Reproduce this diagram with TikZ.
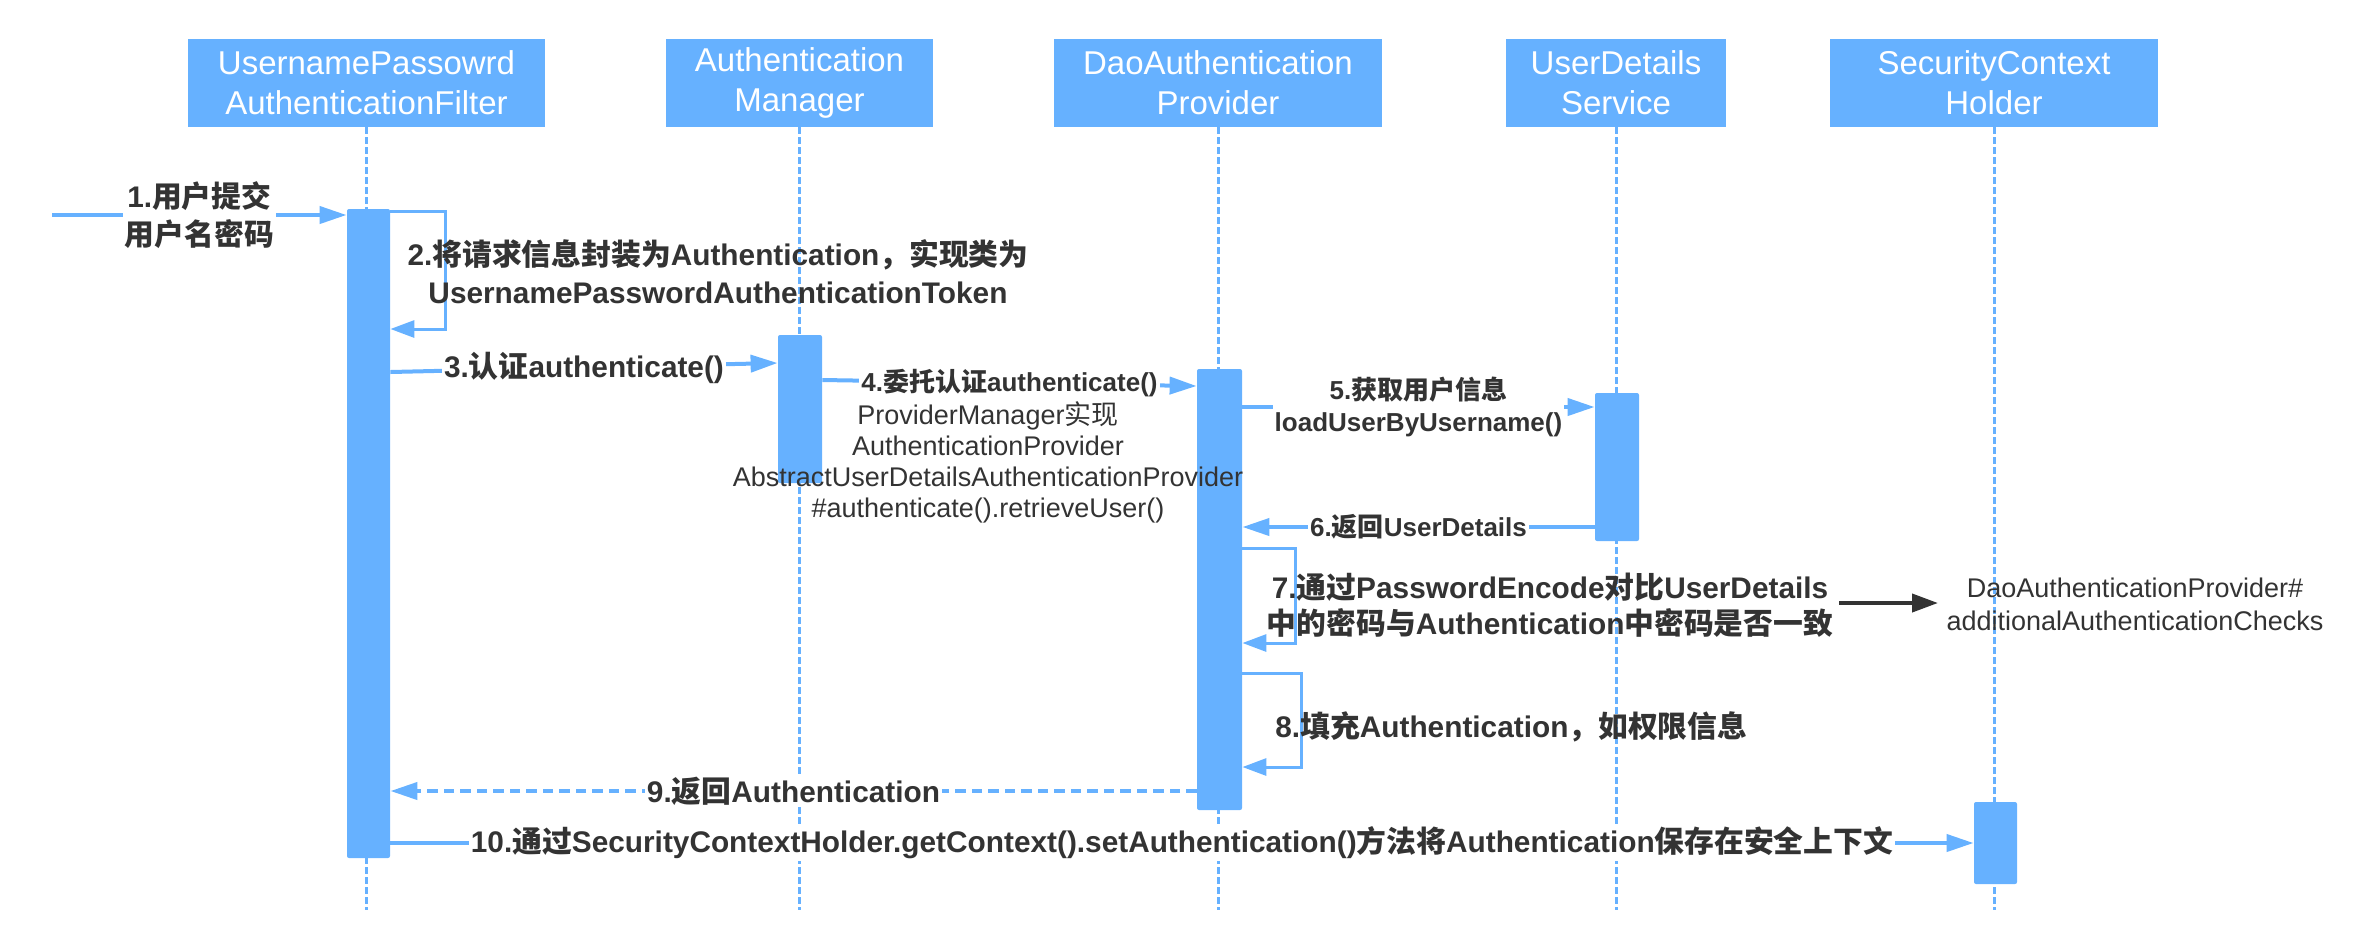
\documentclass[tikz,border=0pt]{standalone}
\usepackage{fontspec}
\setmainfont{Liberation Sans}
\newfontfamily\cjkfont{Noto Sans CJK SC}
\XeTeXinterchartokenstate=1
\newXeTeXintercharclass\CJKcls
\newcount\cjkc
\cjkc="4E00
\loop\ifnum\cjkc<"A000 \XeTeXcharclass\cjkc=\CJKcls \advance\cjkc by 1 \repeat
\cjkc="3000
\loop\ifnum\cjkc<"3040 \XeTeXcharclass\cjkc=\CJKcls \advance\cjkc by 1 \repeat
\cjkc="FF00
\loop\ifnum\cjkc<"FFF0 \XeTeXcharclass\cjkc=\CJKcls \advance\cjkc by 1 \repeat
\XeTeXinterchartoks 0 \CJKcls = {\begingroup\cjkfont}
\XeTeXinterchartoks 4095 \CJKcls = {\begingroup\cjkfont}
\XeTeXinterchartoks \CJKcls 0 = {\endgroup}
\XeTeXinterchartoks \CJKcls 4095 = {\endgroup}
\usetikzlibrary{arrows.meta}
\definecolor{blu}{HTML}{66B1FF}
\definecolor{txt}{HTML}{333333}
\begin{document}
\begin{tikzpicture}[x=0.5pt,y=-0.5pt,
  box/.style={fill=blu, text=white, inner sep=0pt, align=center, minimum height=44pt,
    font={\fontsize{16.5pt}{20pt}\selectfont}},
  act/.style={fill=blu, inner sep=0pt, rounded corners=1pt},
  life/.style={draw=blu, line width=1.5pt, dash pattern=on 3.3pt off 1.7pt},
  msg/.style={draw=blu, line width=2pt, -{Triangle[length=13.5pt,width=8.5pt]}},
  loopmsg/.style={draw=blu, line width=1.5pt, -{Triangle[length=12pt,width=8.5pt]}},
  ret/.style={msg, dash pattern=on 5.25pt off 3pt},
  darkarrow/.style={draw=txt, line width=2pt, -{Triangle[length=13pt,width=9pt]}},
  lbl/.style={text=txt, align=center, inner sep=1pt,
    font={\fontsize{14.9pt}{19pt}\selectfont\bfseries}},
  lbls/.style={text=txt, align=center, inner sep=1pt,
    font={\fontsize{13pt}{16pt}\selectfont\bfseries}},
  note/.style={text=txt, align=center, inner sep=0pt,
    font={\fontsize{13.5pt}{15.5pt}\selectfont}},
  wb/.style={fill=white},
]
\useasboundingbox (0,0) rectangle (2356,950);

% participants
\node[box, minimum width=178.5pt] (b1) at (366.5,83) {UsernamePassowrd\\AuthenticationFilter};
\node[box, minimum width=133.5pt] (b2) at (799.5,83) {Authentication\\Manager};
\node[box, minimum width=164pt] (b3) at (1218,83) {DaoAuthentication\\Provider};
\node[box, minimum width=110pt] (b4) at (1616,83) {UserDetails\\Service};
\node[box, minimum width=164pt] (b5) at (1994,83) {SecurityContext\\Holder};

% lifelines
\foreach \b in {b1,b2,b3,b4,b5} {
  \draw[life] (\b.south) -- (\b.south |- 0,910);
}

% activations
\node[act, minimum width=21.5pt, minimum height=324.5pt] (a1) at (368.5,533.5) {};
\node[act, minimum width=22pt, minimum height=74pt] (a2) at (800,409) {};
\node[act, minimum width=22.5pt, minimum height=220.5pt] (a3) at (1219.5,589.5) {};
\node[act, minimum width=22pt, minimum height=74pt] (a4) at (1617,467) {};
\node[act, minimum width=21.5pt, minimum height=41pt] (a5) at (1995.5,843) {};

% 1
\coordinate (in) at (52,215);
\draw[msg] (in) -- node[lbl, wb] (l1) {1.用户提交\\用户名密码} (a1.west |- in);

% 2
\draw[loopmsg] (a1.east |- 0,211) -- (445,211) -- (445,329) -- (a1.east |- 0,329);
\node[lbl] (l2) at (718,272) {2.将请求信息封装为Authentication，实现类为\\UsernamePasswordAuthenticationToken};

% 3
\draw[msg] (a1.east |- 0,372) -- node[lbl, wb] (l3) {3.认证authenticate()} (a2.west |- 0,363);

% 4
\draw[msg] (a2.east |- 0,380) -- node[lbls, wb] (l4) {4.委托认证authenticate()} (a3.west |- 0,386);
\node[note] (n4) at (988,462) {ProviderManager实现\\AuthenticationProvider\\AbstractUserDetailsAuthenticationProvider\\\#authenticate().retrieveUser()};

% 5
\draw[msg] (a3.east |- 0,407) -- node[lbls, wb] (l5) {5.获取用户信息\\loadUserByUsername()} (a4.west |- 0,407);

% 6
\draw[msg] (a4.west |- 0,527) -- node[lbls, wb] (l6) {6.返回UserDetails} (a3.east |- 0,527);

% 7
\draw[loopmsg] (a3.east |- 0,548) -- (1295,548) -- (1295,643) -- (a3.east |- 0,643);
\node[lbl, font={\fontsize{14.9pt}{18pt}\selectfont\bfseries}] (l7) at (1550,605) {7.通过PasswordEncode对比UserDetails\\中的密码与Authentication中密码是否一致};
\coordinate (k1) at (1839,603);
\coordinate (k2) at (1938,603);
\draw[darkarrow] (k1) -- (k2);
\node[note, font={\fontsize{13.5pt}{16.5pt}\selectfont}] (dao) at (2135,604) {DaoAuthenticationProvider\#\\additionalAuthenticationChecks};

% 8
\draw[loopmsg] (a3.east |- 0,673) -- (1301,673) -- (1301,767) -- (a3.east |- 0,767);
\node[lbl, anchor=west] (l8) at (1273,727) {8.填充Authentication，如权限信息};

% 9
\draw[ret] (a3.west |- 0,791) -- node[lbl, wb] (l9) {9.返回Authentication} (a1.east |- 0,791);

% 10
\draw[msg] (a1.east |- 0,843) -- node[lbl, wb] (l10) {10.通过SecurityContextHolder.getContext().setAuthentication()方法将Authentication保存在安全上下文} (a5.west |- 0,843);
\end{tikzpicture}
\end{document}
